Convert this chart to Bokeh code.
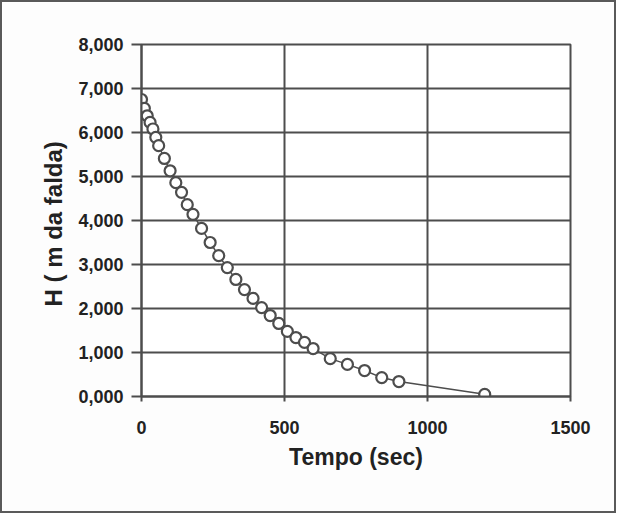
from bokeh.plotting import figure
from bokeh.models import Range1d, FixedTicker
from bokeh.embed import file_html
from bokeh.resources import INLINE

# Data: time (s) and head H (m of water table)
tempo = [0, 10, 20, 30, 40, 50, 60, 80, 100, 120, 140, 160, 180, 210, 240, 270,
         300, 330, 360, 390, 420, 450, 480, 510, 540, 570, 600, 660, 720, 780,
         840, 900, 1200]
h_falda = [6.75, 6.55, 6.38, 6.23, 6.08, 5.89, 5.70, 5.41, 5.13, 4.86, 4.64, 4.36,
           4.14, 3.82, 3.50, 3.20, 2.93, 2.66, 2.43, 2.23, 2.02, 1.84, 1.66, 1.48,
           1.34, 1.23, 1.09, 0.86, 0.73, 0.59, 0.43, 0.34, 0.05]

x_ticks = [0, 500, 1000, 1500]
x_tick_labels = ["0", "500", "1000", "1500"]
y_ticks = [0, 1, 2, 3, 4, 5, 6, 7, 8]
y_tick_labels = ["0,000", "1,000", "2,000", "3,000", "4,000", "5,000", "6,000", "7,000", "8,000"]

GRAY = "#4d4d4d"
FONT = "Liberation Sans"

p = figure(width=616, height=513, output_backend="svg", toolbar_location=None,
           x_range=Range1d(0, 1500), y_range=Range1d(0, 8),
           min_border_left=139, min_border_right=48, min_border_top=42, min_border_bottom=119,
           background_fill_color="white", border_fill_color="#fdfdfd")
p.styles = {"border": "2px solid #5a5a5a"}

p.outline_line_color = GRAY
p.outline_line_width = 2

for ax in (p.xaxis[0], p.yaxis[0]):
    ax.axis_line_color = GRAY
    ax.axis_line_width = 2
    ax.major_tick_line_color = GRAY
    ax.major_tick_line_width = 2
    ax.major_tick_in = 0
    ax.minor_tick_line_color = None
    ax.major_label_text_font = FONT
    ax.major_label_text_font_style = "bold"
    ax.major_label_text_font_size = "18px"
    ax.major_label_text_color = "#222222"
    ax.axis_label_text_font = FONT
    ax.axis_label_text_font_style = "bold"
    ax.axis_label_text_color = "#222222"

p.xaxis[0].ticker = FixedTicker(ticks=x_ticks)
p.xaxis[0].major_label_overrides = dict(zip(x_ticks, x_tick_labels))
p.xaxis[0].major_tick_out = 5
p.xaxis[0].major_label_standoff = 19
p.xaxis[0].axis_label = "Tempo (sec)"
p.xaxis[0].axis_label_text_font_size = "23px"
p.xaxis[0].axis_label_standoff = 7

p.yaxis[0].ticker = FixedTicker(ticks=y_ticks)
p.yaxis[0].major_label_overrides = dict(zip(y_ticks, y_tick_labels))
p.yaxis[0].major_tick_out = 10
p.yaxis[0].major_label_standoff = 8
p.yaxis[0].axis_label = "H  ( m da falda)"
p.yaxis[0].axis_label_text_font_size = "24px"
p.yaxis[0].axis_label_standoff = 8

p.xgrid.grid_line_color = GRAY
p.xgrid.grid_line_width = 2
p.ygrid.grid_line_color = GRAY
p.ygrid.grid_line_width = 2
p.xgrid.ticker = FixedTicker(ticks=x_ticks)
p.ygrid.ticker = FixedTicker(ticks=y_ticks)

p.line(tempo, h_falda, line_color=GRAY, line_width=1.5)
p.scatter(tempo, h_falda, marker="circle", size=11, fill_color="white",
          line_color=GRAY, line_width=2.2)

open("out.html", "w").write(file_html(p, INLINE))
